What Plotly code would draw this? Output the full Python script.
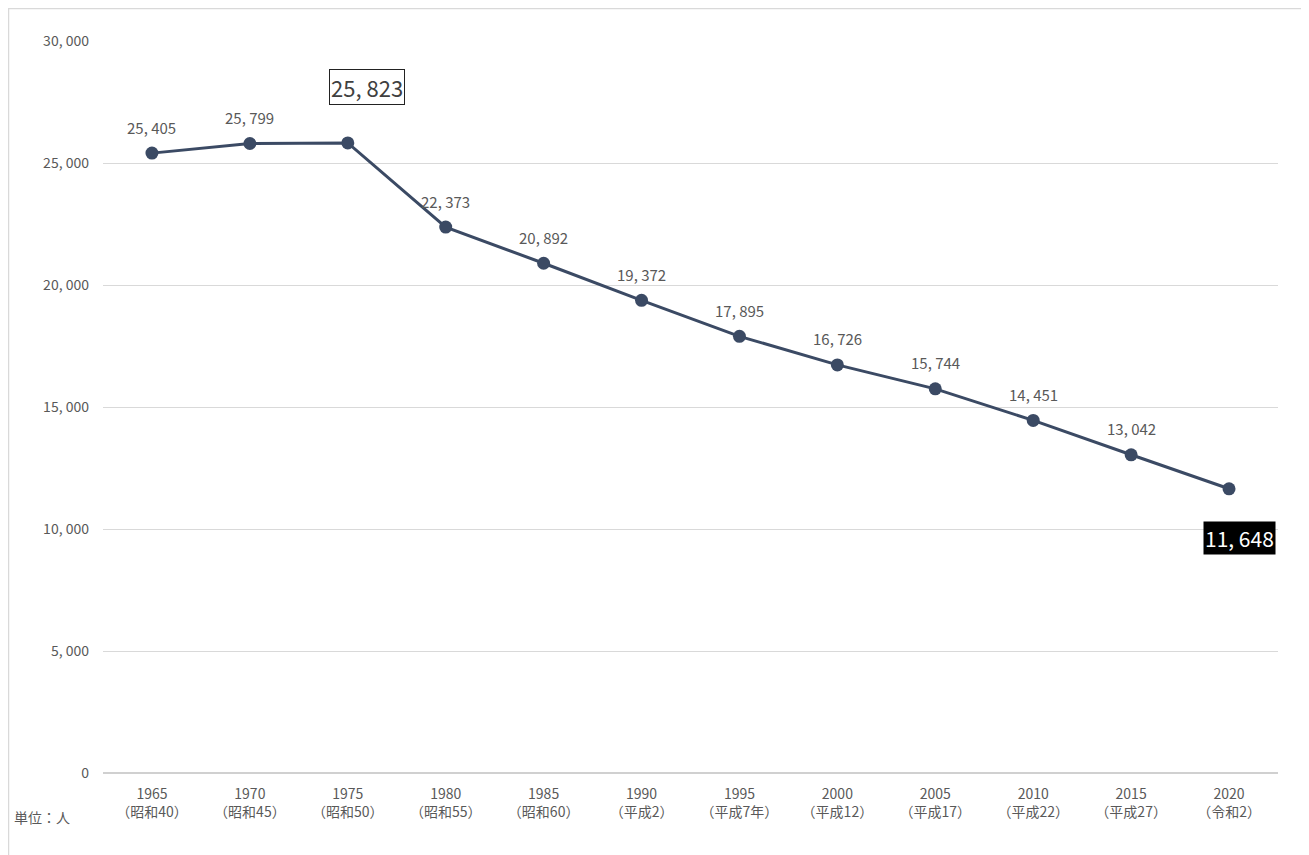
import plotly.graph_objects as go

years = ["1965", "1970", "1975", "1980", "1985", "1990", "1995", "2000", "2005", "2010", "2015", "2020"]
eras = ["（昭和40）", "（昭和45）", "（昭和50）", "（昭和55）", "（昭和60）", "（平成2）",
        "（平成7年）", "（平成12）", "（平成17）", "（平成22）", "（平成27）", "（令和2）"]
population = [25405, 25799, 25823, 22373, 20892, 19372, 17895, 16726, 15744, 14451, 13042, 11648]
y_ticks = [0, 5000, 10000, 15000, 20000, 25000, 30000]

cats = [f"{y}<br>{e}" for y, e in zip(years, eras)]
font = "Noto Sans CJK JP"
line_color = "#3b4a64"

L, R, T, B = 95, 39, 33, 90
W, H = 1309, 855
pw, ph = W - L - R, H - T - B

fig = go.Figure()
fig.add_trace(go.Scatter(
    x=cats, y=population, mode="lines+markers",
    line=dict(color=line_color, width=3),
    marker=dict(color=line_color, size=13),
    hoverinfo="skip", showlegend=False,
))

imax = population.index(max(population))
imin = len(population) - 1
for i, (c, v) in enumerate(zip(cats, population)):
    label = f"{v:,}".replace(",", ", ")
    if i == imax:
        fig.add_annotation(x=c, y=v, text=label, showarrow=False, xshift=19, yshift=56,
                           font=dict(family=font, size=22, color="#404040"),
                           bordercolor="#222222", borderwidth=1, borderpad=1, bgcolor="white")
    elif i == imin:
        fig.add_annotation(x=c, y=v, text=label, showarrow=False, xshift=10, yshift=-49,
                           font=dict(family=font, size=21, color="white"),
                           bgcolor="black", borderpad=1)
    else:
        fig.add_annotation(x=c, y=v, text=label, showarrow=False, yshift=26,
                           font=dict(family=font, size=15, color="#595959"))

fig.add_annotation(xref="paper", yref="paper", x=(4 - L) / pw, y=(H - B - 809) / ph,
                   xanchor="left", yanchor="middle",
                   text="単位：人", showarrow=False, font=dict(family=font, size=14, color="#595959"))

fig.add_shape(type="rect", xref="paper", yref="paper",
              x0=(0.5 - L) / pw, x1=(1299 - L) / pw, y0=(H - B - 852) / ph, y1=(H - B - 0.5) / ph,
              line=dict(color="#d9d9d9", width=1.5), fillcolor="rgba(0,0,0,0)")

fig.update_layout(
    width=W, height=H,
    margin=dict(l=L, r=R, t=T, b=B),
    paper_bgcolor="white", plot_bgcolor="white",
    font=dict(family=font, color="#595959"),
    xaxis=dict(type="category", range=[-0.5, len(cats) - 0.5], showgrid=False, showline=False,
               ticks="", tickfont=dict(size=14, color="#595959"), tickangle=0, ticklabelstandoff=11),
    yaxis=dict(range=[0, 30000], tickvals=y_ticks, ticktext=[f"{t:,}".replace(",", ", ") for t in y_ticks],
               showgrid=True, gridcolor="#d9d9d9", gridwidth=1, zeroline=True, zerolinecolor="#d0d0d0",
               zerolinewidth=1.5, showline=False, ticks="", ticklabelstandoff=13,
               tickfont=dict(size=14, color="#595959")),
)

fig.write_html("out.html")
